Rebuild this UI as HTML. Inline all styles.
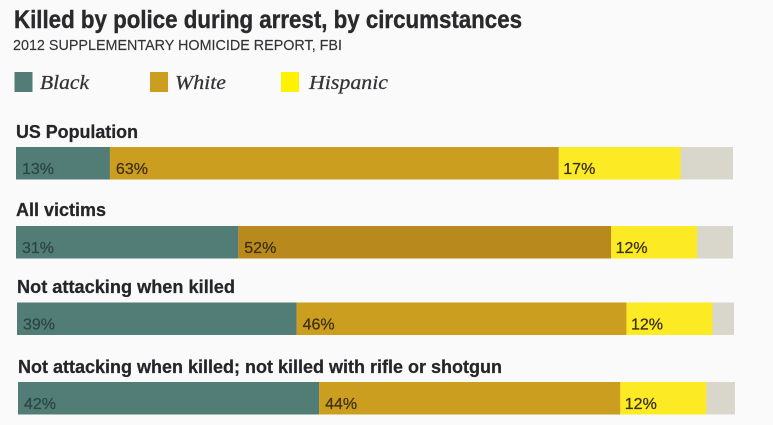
<!DOCTYPE html>
<html lang="en">
<head>
<meta charset="utf-8">
<title>Killed by police during arrest, by circumstances</title>
<style>
  html, body { margin: 0; padding: 0; background: #fafafa; }
  svg { display: block; filter: blur(0.35px); }
  .sans { font-family: "Liberation Sans", sans-serif; }
  .serif { font-family: "Liberation Serif", serif; font-style: italic; }
  .row-title { font-family: "Liberation Sans", sans-serif; font-weight: 700; font-size: 18px; fill: #26262a; stroke: #26262a; stroke-width: 0.25px; }
  .legend-label { font-size: 20px; fill: #333336; stroke: #333336; stroke-width: 0.25px; }
  .value-label { font-family: "Liberation Sans", sans-serif; font-size: 16px; stroke-width: 0.25px; }
</style>
</head>
<body>
<svg id="chart" width="773" height="425" viewBox="0 0 773 425" xmlns="http://www.w3.org/2000/svg">
  <rect x="0" y="0" width="773" height="425" fill="#fafafa"/>

  <text x="14" y="28" class="sans" font-weight="700" font-size="25px" fill="#2a2a2c" stroke="#2a2a2c" stroke-width="0.4" textLength="508" lengthAdjust="spacingAndGlyphs">Killed by police during arrest, by circumstances</text>
  <text x="13" y="50" class="sans" font-size="15px" fill="#333336" stroke="#333336" stroke-width="0.15" textLength="329" lengthAdjust="spacingAndGlyphs">2012 SUPPLEMENTARY HOMICIDE REPORT, FBI</text>

  <g>
    <rect x="14.5" y="72" width="18" height="20" fill="#527d76"/>
    <text x="40" y="89" class="serif legend-label" textLength="49" lengthAdjust="spacingAndGlyphs">Black</text>
    <rect x="150" y="72" width="18" height="20" fill="#cb9e20"/>
    <text x="175" y="89" class="serif legend-label" textLength="51" lengthAdjust="spacingAndGlyphs">White</text>
    <rect x="281" y="72" width="18" height="20" fill="#fff200"/>
    <text x="309" y="89" class="serif legend-label" textLength="79" lengthAdjust="spacingAndGlyphs">Hispanic</text>
  </g>

  <g id="row-0" transform="translate(16,147)">
    <text x="0" y="-9" class="row-title" textLength="122" lengthAdjust="spacingAndGlyphs">US Population</text>
  </g>
  <g id="row-1" transform="translate(16,226)">
    <text x="0" y="-10" class="row-title" textLength="90" lengthAdjust="spacingAndGlyphs">All victims</text>
  </g>
  <g id="row-2" transform="translate(17,302.5)">
    <text x="0" y="-9.500" class="row-title" textLength="218" lengthAdjust="spacingAndGlyphs">Not attacking when killed</text>
  </g>
  <g id="row-3" transform="translate(18,382)">
    <text x="0" y="-9" class="row-title" textLength="484" lengthAdjust="spacingAndGlyphs">Not attacking when killed; not killed with rifle or shotgun</text>
  </g>
</svg>

<script>
// Drawn shares (percent of full bar).
const categories = ["US Population", "All victims", "Not attacking when killed", "Not attacking when killed; not killed with rifle or shotgun"];
const blackValues = [13.1, 31, 39, 42];
const whiteValues = [62.6, 52, 46, 42];
const hispanicValues = [17, 12, 12, 12];
// Printed labels exactly as they appear on the chart.
const blackLabels = ["13%", "31%", "39%", "42%"];
const whiteLabels = ["63%", "52%", "46%", "44%"];
const hispanicLabels = ["17%", "12%", "12%", "12%"];

const SVG_NS = "http://www.w3.org/2000/svg";
const FULL_WIDTH = 717;
const BAR_HEIGHT = 32.5;
const xScale = function (v) { return v / 100 * FULL_WIDTH; };

categories.forEach(function (category, i) {
  const row = document.getElementById("row-" + i);
  const segments = [
    { key: "black", value: blackValues[i], label: blackLabels[i], fill: "#527d76", ink: "#2b4645", inset: 6 },
    { key: "white", value: whiteValues[i], label: whiteLabels[i], fill: i === 1 ? "#b88a1e" : "#cb9e20", ink: "#42300f", inset: 6 },
    { key: "hispanic", value: hispanicValues[i], label: hispanicLabels[i], fill: "#fbea24", ink: "#3a3012", inset: 4.5 }
  ];

  const rest = document.createElementNS(SVG_NS, "rect");
  rest.setAttribute("x", 0);
  rest.setAttribute("y", 0);
  rest.setAttribute("width", xScale(100));
  rest.setAttribute("height", BAR_HEIGHT);
  rest.setAttribute("fill", "#d9d6cc");
  
  
  row.appendChild(rest);

  let cumulative = 0;
  segments.forEach(function (seg) {
    const start = xScale(cumulative);
    const bar = document.createElementNS(SVG_NS, "rect");
    bar.setAttribute("x", start);
    bar.setAttribute("y", 0);
    bar.setAttribute("width", xScale(seg.value));
    bar.setAttribute("height", BAR_HEIGHT);
    bar.setAttribute("fill", seg.fill);
    
    
    row.appendChild(bar);

    const text = document.createElementNS(SVG_NS, "text");
    text.setAttribute("x", start + seg.inset);
    text.setAttribute("y", 27);
    text.setAttribute("class", "value-label");
    text.setAttribute("fill", seg.ink);
    text.setAttribute("stroke", seg.ink);
    text.textContent = seg.label;
    
    
    row.appendChild(text);

    cumulative += seg.value;
  });
});
</script>
</body>
</html>
